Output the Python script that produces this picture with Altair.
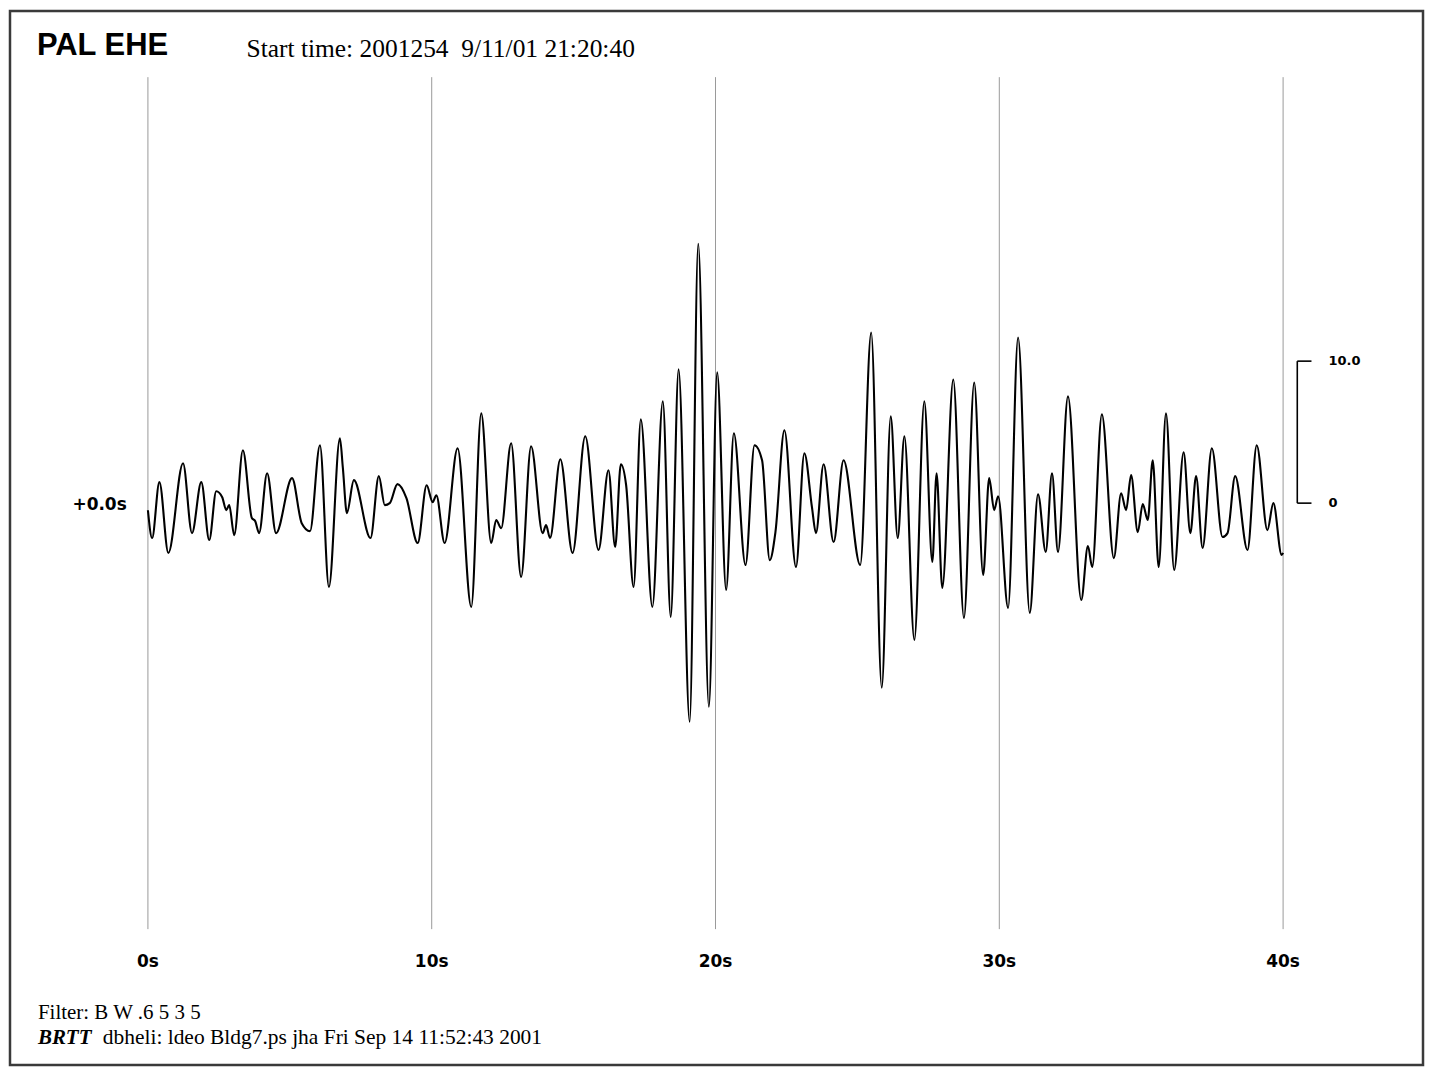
import altair as alt
import pandas as pd

# Seismogram trace: time (s) and amplitude (extrema)
t_s = [0.0, 0.148, 0.404, 0.720, 1.237, 1.553, 1.880, 2.161, 2.407, 2.618, 2.759, 2.864,
       3.040, 3.346, 3.662, 3.778, 3.918, 4.200, 4.516, 5.078, 5.419, 5.711, 6.062, 6.378,
       6.765, 6.870, 7.011, 7.257, 7.844, 8.136, 8.346, 8.522, 8.793, 9.109, 9.506, 9.822,
       10.033, 10.163, 10.455, 10.912, 11.393, 11.745, 12.096, 12.272, 12.448, 12.799,
       13.150, 13.502, 13.909, 14.029, 14.169, 14.532, 14.964, 15.410, 15.877, 16.229,
       16.464, 16.664, 16.851, 17.114, 17.368, 17.775, 18.144, 18.422, 18.700, 19.089,
       19.392, 19.767, 20.059, 20.375, 20.646, 21.057, 21.374, 21.641, 21.912, 22.112,
       22.428, 22.836, 23.131, 23.398, 23.539, 23.809, 24.161, 24.512, 25.099, 25.486,
       25.858, 26.174, 26.420, 26.656, 27.007, 27.358, 27.640, 27.790, 27.991, 28.378,
       28.754, 29.116, 29.432, 29.643, 29.819, 29.959, 30.310, 30.662, 31.073, 31.365,
       31.636, 31.857, 32.068, 32.420, 32.887, 33.123, 33.274, 33.614, 34.036, 34.292,
       34.468, 34.644, 34.879, 35.055, 35.231, 35.406, 35.617, 35.873, 36.162, 36.495,
       36.731, 36.935, 37.163, 37.490, 37.866, 38.042, 38.312, 38.745, 39.071, 39.447,
       39.657, 39.949, 40.0]
amp = [-0.5, -2.46, 1.48, -3.51, 2.81, -2.11, 1.48, -2.60, 0.84, 0.42, -0.49, -0.14,
       -2.25, 3.72, -1.05, -1.26, -2.11, 2.11, -2.11, 1.76, -1.41, -1.97, 4.08, -5.90,
       4.57, 2.46, -0.70, 1.62, -2.46, 1.90, -0.14, 0.0, 1.34, 0.35, -2.81, 1.26,
       0.07, 0.56, -2.81, 3.87, -7.31, 6.32, -2.81, -1.19, -1.76, 4.22,
       -5.20, 4.01, -2.11, -1.55, -2.46, 3.09, -3.51, 4.71, -3.30, 2.32,
       -3.09, 2.74, 1.26, -5.90, 5.90, -7.31, 7.17, -8.01, 9.42, -15.39,
       18.27, -14.34, 9.21, -6.11, 4.92, -4.36, 4.08, 3.02, -4.01, -2.04,
       5.13, -4.50, 3.51, -0.28, -2.11, 2.74, -2.74, 3.02, -4.36, 12.02,
       -13.00, 6.11, -2.46, 4.71, -9.63, 7.17, -4.15, 2.11, -5.97, 8.71,
       -8.08, 8.50, -5.06, 1.76, -0.49, 0.49, -7.38, 11.67, -7.73, 0.63,
       -3.44, 2.11, -3.44, 7.52, -6.82, -3.02, -4.50, 6.25, -3.87, 0.70,
       -0.49, 1.97, -2.04, -0.07, -1.19, 3.02, -4.50, 6.32, -4.71, 3.58,
       -2.11, 1.90, -3.16, 3.87, -2.39, -2.11, 1.90, -3.30, 4.08, -1.90,
       0.0, -3.65, -3.5]

grid_t = [0, 10, 20, 30, 40]
grid_labels = ["0s", "10s", "20s", "30s", "40s"]
scale_vals = [0, 10]
scale_labels = ["0", "10.0"]

W, H = 1416, 1056
X_DOM = [-4.86, 44.93]
Y_DOM = [-39.56, 34.65]
xs = alt.Scale(domain=X_DOM, nice=False, zero=False)
ys = alt.Scale(domain=Y_DOM, nice=False, zero=False)

trace_df = pd.DataFrame({"t": t_s, "a": amp})
grid_df = pd.DataFrame({"t": grid_t, "lab": grid_labels, "lo": [-30] * 5, "hi": [30] * 5,
                        "ly": [-32.35] * 5})

# outer frame of the plot
frame = alt.Chart(pd.DataFrame({"k": [0]})).mark_rect(
    filled=False, stroke="#3a3a3a", strokeWidth=2.5, fill=None
).encode(x=alt.value(0), x2=alt.value(W), y=alt.value(0), y2=alt.value(H))

grid = alt.Chart(grid_df).mark_rule(color="#9a9a9a", strokeWidth=1).encode(
    x=alt.X("t:Q", scale=xs, axis=None),
    y=alt.Y("lo:Q", scale=ys, axis=None),
    y2="hi:Q",
)
grid_text = alt.Chart(grid_df).mark_text(
    font="DejaVu Sans", fontWeight="bold", fontSize=17, baseline="middle", align="center",
    color="black"
).encode(
    x=alt.X("t:Q", scale=xs, axis=None),
    y=alt.Y("ly:Q", scale=ys, axis=None),
    text="lab:N",
)

trace = alt.Chart(trace_df).mark_line(
    color="black", strokeWidth=2.1, interpolate="monotone"
).encode(
    x=alt.X("t:Q", scale=xs, axis=None),
    y=alt.Y("a:Q", scale=ys, axis=None),
)

# amplitude scale bracket
br_x = 40.5
br_x2 = 41.0
br_lab_x = 41.6
bracket_v = alt.Chart(pd.DataFrame({"x": [br_x], "lo": [scale_vals[0]], "hi": [scale_vals[1]]})).mark_rule(
    color="black", strokeWidth=1.6
).encode(
    x=alt.X("x:Q", scale=xs, axis=None),
    y=alt.Y("lo:Q", scale=ys, axis=None),
    y2="hi:Q",
)
sc_df = pd.DataFrame({"v": scale_vals, "lab": scale_labels, "x1": [br_x] * 2, "x2": [br_x2] * 2,
                      "xl": [br_lab_x] * 2})
bracket_h = alt.Chart(sc_df).mark_rule(color="black", strokeWidth=1.6).encode(
    x=alt.X("x1:Q", scale=xs, axis=None),
    x2="x2:Q",
    y=alt.Y("v:Q", scale=ys, axis=None),
)
bracket_t = alt.Chart(sc_df).mark_text(
    font="DejaVu Sans", fontWeight="bold", fontSize=13, align="left", baseline="middle",
    color="black"
).encode(
    x=alt.X("xl:Q", scale=xs, axis=None),
    y=alt.Y("v:Q", scale=ys, axis=None),
    text="lab:N",
)

def label(text, x, y, **kw):
    return alt.Chart(pd.DataFrame({"s": [text]})).mark_text(baseline="middle", color="black", **kw).encode(
        x=alt.value(x), y=alt.value(y), text="s:N"
    )

NB = "\u00a0"
title = label("PAL EHE", 27, 35, font="Liberation Sans", fontWeight="bold", fontSize=31, align="left")
start = label("Start time: 2001254" + NB + NB + "9/11/01 21:20:40", 237, 38, font="Liberation Serif",
              fontSize=25.5, align="left")
zero_lab = label("+0.0s", 117, 495, font="DejaVu Sans", fontWeight="bold", fontSize=17, align="right")
filt = label("Filter: B W .6 5 3 5", 28, 1004, font="Liberation Serif", fontSize=21, align="left")
brtt = label("BRTT", 28, 1029, font="Liberation Serif", fontWeight="bold", fontStyle="italic",
             fontSize=21, align="left")
footer = label("dbheli: ldeo Bldg7.ps jha Fri Sep 14 11:52:43 2001", 93, 1029,
               font="Liberation Serif", fontSize=21.5, align="left")

chart = alt.layer(
    frame, grid, grid_text, trace, bracket_v, bracket_h, bracket_t,
    title, start, zero_lab, filt, brtt, footer
).properties(
    width=W, height=H, padding=2, autosize=alt.AutoSizeParams(type="none")
).configure_view(
    strokeWidth=0
).configure(background="white")

chart.save("out.html", embed_options={"renderer": "svg", "actions": False})
